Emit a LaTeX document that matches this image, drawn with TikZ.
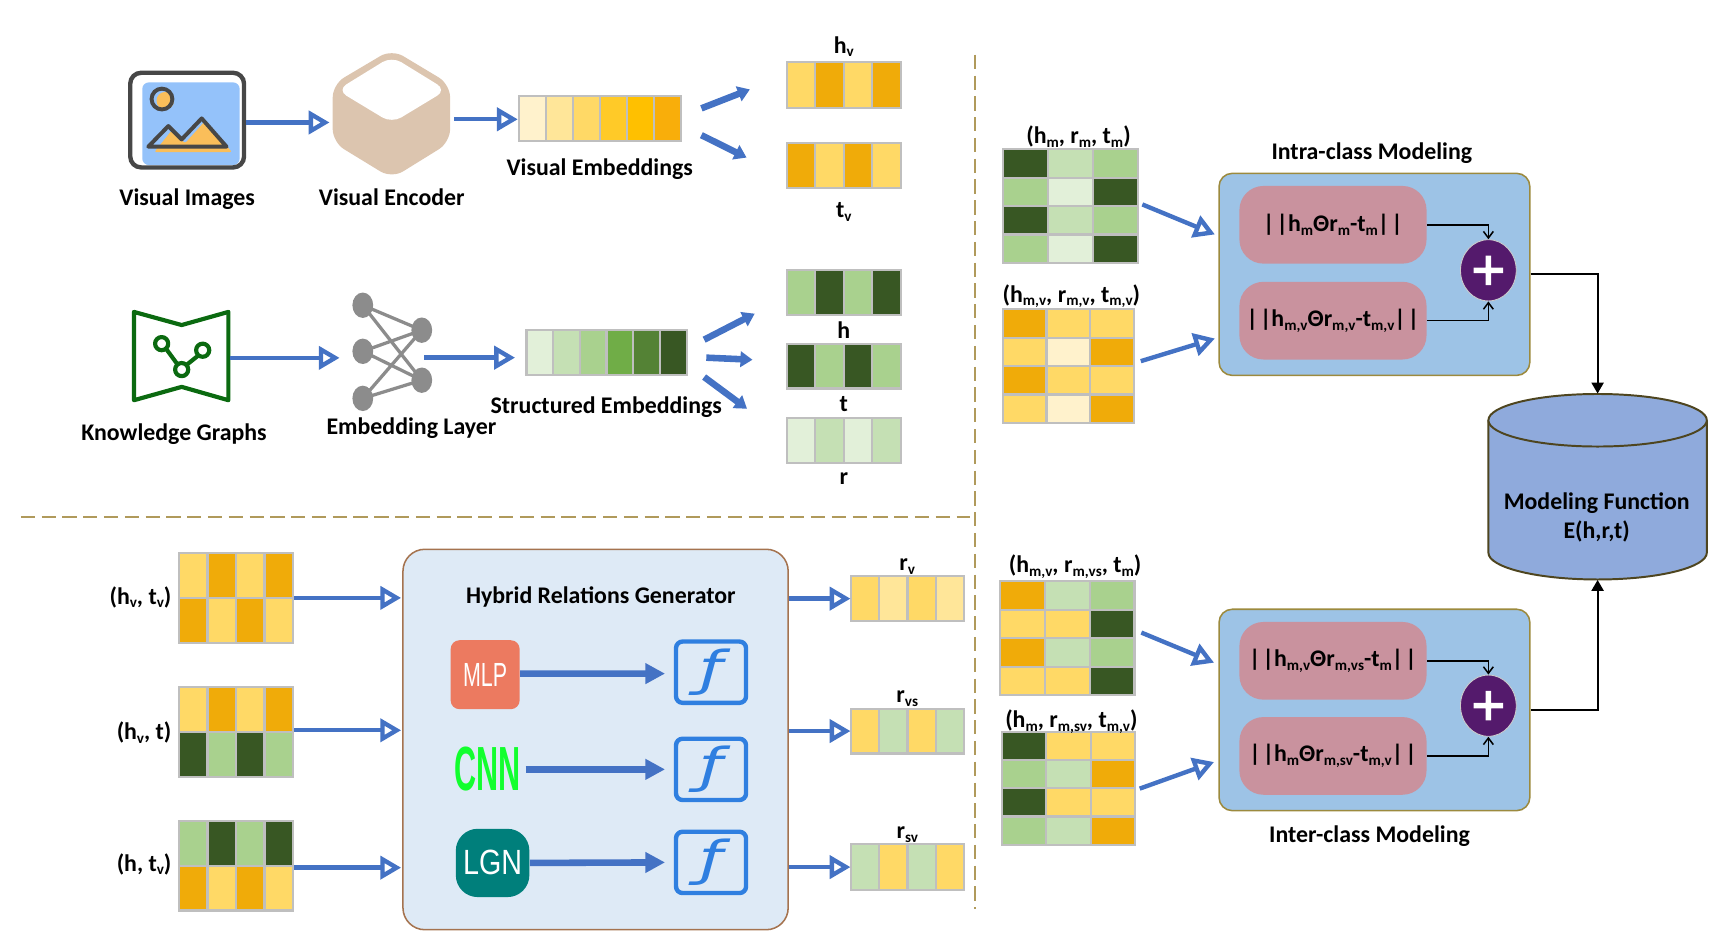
\documentclass[tikz,border=0pt]{standalone}
\usepackage{fontspec}
\usepackage{graphicx}
\setmainfont{Carlito}
\newfontfamily\arialf{Liberation Sans}
\newfontfamily\dejaf{DejaVu Sans}
\usetikzlibrary{arrows.meta,shapes.geometric,calc}
\definecolor{barY}{HTML}{FFD966}
\definecolor{barO}{HTML}{F0AB09}
\definecolor{barP}{HTML}{FFF2CC}
\definecolor{barM}{HTML}{FFE699}
\definecolor{barA}{HTML}{FFCA28}
\definecolor{barB}{HTML}{FFC000}
\definecolor{barC}{HTML}{F9AE0A}
\definecolor{grD}{HTML}{385723}
\definecolor{grA}{HTML}{A9D18E}
\definecolor{grC}{HTML}{C5E0B4}
\definecolor{grE}{HTML}{E2F0D9}
\definecolor{grG}{HTML}{70AD47}
\definecolor{grH}{HTML}{548235}
\definecolor{flow}{HTML}{4472C4}
\definecolor{dashc}{HTML}{B09A5B}
\definecolor{panel}{HTML}{9DC3E6}
\definecolor{pink}{HTML}{C9929E}
\definecolor{plusc}{HTML}{541A6C}
\definecolor{olive}{HTML}{9C8A3E}
\definecolor{fblue}{HTML}{2F7FE0}
\newcommand{\sbt}[1]{\raisebox{-1.7pt}{\fontsize{6.9}{7}\selectfont #1}}
\newcommand{\nrm}{|\kern1pt|}
\newcommand{\heatrow}[5]{% x0 y0 cellw cellh colours
  \foreach \cc [count=\ii from 0] in {#5} {
    \fill[\cc] ({#1+\ii*#3},{#2}) rectangle ++(#3,#4);
    \draw[cellline] ({#1+\ii*#3},{#2}) rectangle ++(#3,#4);
  }}
\newcommand{\heatfour}[6]{% x0 y0 cellw cellh oddrow evenrow
  \heatrow{#1}{#2}{#3}{#4}{#5}
  \heatrow{#1}{#2+#4}{#3}{#4}{#6}
  \heatrow{#1}{#2+2*#4}{#3}{#4}{#5}
  \heatrow{#1}{#2+3*#4}{#3}{#4}{#6}}
\tikzset{
  cellline/.style={draw=black!25,line width=1pt},
  lab/.style={font=\fontsize{10.9}{13}\selectfont\bfseries,inner sep=0pt,align=center,text=black,yshift=-.8pt},
  hook/.style={inner sep=0pt,minimum size=0pt},
  openflow/.style={draw=flow,line width=2pt,-{Triangle[open,length=9.5pt,width=10.5pt,line width=2pt]}},
  solidflow/.style={draw=flow,line width=3pt,-{Triangle[length=5.5pt,width=7pt]}},
  genflow/.style={draw=flow,line width=3pt,-{Triangle[length=9pt,width=9pt]}},
  panelbox/.style={draw=olive,fill=panel,line width=.7pt,rounded corners=6pt,inner sep=0pt},
  pinkbox/.style={fill=pink,rounded corners=11pt,inner sep=0pt,minimum width=85.5pt,minimum height=35.5pt,font=\fontsize{10.9}{13}\selectfont\bfseries},
  plusnode/.style={ellipse,fill=plusc,draw=black!20,line width=.4pt,inner sep=0pt,minimum width=25.5pt,minimum height=28pt},
  thinarrow/.style={draw=black,line width=.7pt,-{Straight Barb[length=3pt,width=4.5pt]}},
  bigline/.style={draw=black,line width=1pt,-{Triangle[length=5pt,width=5.5pt]}},
  fbox/.style={draw=fblue,line width=2pt,rounded corners=3pt,inner sep=0pt,minimum width=32pt,minimum height=28pt,font=\fontsize{22}{22}\selectfont\dejaf\itshape,text=fblue},
  sep/.style={draw=dashc,line width=.9pt,dash pattern=on 6.5pt off 3pt},
  kgline/.style={line width=1.9pt,draw={rgb,255:red,11;green,106;blue,16},line join=round},
}
\begin{document}
\begin{tikzpicture}[x=0.5pt,y=-0.5pt]
\useasboundingbox (0,0) rectangle (1568,869);
% separators
\coordinate (vt) at (891,50); \coordinate (vb) at (891,831);
\coordinate (hl) at (19,472); \coordinate (hr) at (886,472);
\draw[sep] (vt) -- (vb);
\draw[sep] (hl) -- (hr);

% ---------- visual image icon
\node[hook,minimum width=53pt,minimum height=44pt] (img) at (171,110) {};
\fill[rounded corners=3pt,fill={rgb,255:red,148;green,194;blue,250}] (130,75.3) rectangle (219,150.8);
\fill[fill={rgb,255:red,250;green,190;blue,90}] (151,92) circle (8);
\draw[line width=1.8pt,draw=black!72] (148,90.5) circle (9.5);
\fill[fill={rgb,255:red,250;green,190;blue,90},rounded corners=1pt] (141,139) -- (157,119) -- (169,131) -- (187,111) -- (212,139) -- cycle;
\draw[line width=1.8pt,draw=black!72,line join=round] (135.5,134) -- (153.8,115.2) -- (166,127.4) -- (184.3,108.2) -- (207,134) -- cycle;
\draw[line width=2pt,draw=black!72,rounded corners=5pt] (119,66.5) rectangle (223,153);

% ---------- encoder icon
\node[hook,minimum width=53.5pt,minimum height=55pt] (enc) at (358,104) {};
\fill[fill={rgb,255:red,220;green,197;blue,175},rounded corners=6pt] (358,45) -- (411.3,77) -- (411.3,130) -- (358,163) -- (304,130) -- (304,77) -- cycle;
\fill[white,rounded corners=5pt] (358,51.5) -- (408,82.3) -- (358,112.5) -- (308,82.3) -- cycle;

% ---------- visual embeddings
\node[hook,minimum width=74pt,minimum height=20.5pt] (vemb) at (548,108.4) {};
\heatrow{474.5}{87.8}{24.6}{41.2}{barP,barM,barY,barA,barB,barC}
\node[hook,minimum width=52pt,minimum height=20.8pt] (hv) at (771,78) {};
\heatrow{719}{57}{26}{41.6}{barY,barO,barY,barO}
\node[hook,minimum width=52pt,minimum height=20.8pt] (tv) at (771,151) {};
\heatrow{719}{130.5}{26}{41}{barO,barY,barO,barY}

\node[lab] (limg) at (171,180) {Visual Images};
\node[lab] (lenc) at (358,179) {Visual Encoder};
\node[lab] (lvemb) at (548,153) {Visual Embeddings};
\node[lab] (lhv) at (771,41) {h\sbt{v}};
\node[lab] (ltv) at (771,192) {t\sbt{v}};

\draw[openflow] ($(img.east)+(.8,1.9)$) -- ($(enc.west)+(-3,7.9)$);
\draw[openflow] ($(enc.east)+(3.3,5)$) -- ($(vemb.west)+(-.5,.6)$);
\draw[solidflow] ($(vemb.east)+(18.5,-9.4)$) -- ($(hv.west)+(-33.4,3.7)$);
\draw[solidflow] ($(vemb.east)+(18.5,15.1)$) -- ($(tv.west)+(-36.4,-7)$);

% ---------- knowledge graph icon
\node[hook,minimum width=43pt,minimum height=40pt] (kg) at (166,326) {};
\draw[kgline] (122.4,285) -- (166,297) -- (208.7,285) -- (208.7,365.7) -- (166,353.5) -- (122.4,365.7) -- cycle;
\draw[kgline] (152,319) -- (161.5,332) (181,325) -- (171,333);
\draw[kgline] (147.7,314) circle (6) (185.2,320) circle (6) (166,337.7) circle (6);

% ---------- embedding layer icon
\node[hook,minimum width=36pt,minimum height=50pt] (nn) at (358,322) {};
\foreach \a/\b in {331.5/278.9,331.5/321,331.5/364} \foreach \c/\d in {385.4/301.7,385.4/347.4}
  \draw[line width=1.5pt,draw=black!45] (\a,\b) -- (\c,\d);
\foreach \a/\b in {331.5/278.9,331.5/321,331.5/364,385.4/301.7,385.4/347.4}
  \fill[black!45] (\a,\b) ellipse (9.5 and 11.6);

% ---------- structured embeddings
\node[hook,minimum width=73.2pt,minimum height=20.6pt] (semb) at (554.2,322.4) {};
\heatrow{481}{301.8}{24.4}{41.2}{grE,grC,grA,grG,grH,grD}
\node[hook,minimum width=52pt,minimum height=20.5pt] (hb) at (771,267.5) {};
\heatrow{719}{247}{26}{41}{grA,grD,grA,grD}
\node[hook,minimum width=52pt,minimum height=20.5pt] (tb) at (771,334.5) {};
\heatrow{719}{314}{26}{41}{grD,grA,grD,grA}
\node[hook,minimum width=52pt,minimum height=20.6pt] (rb) at (771,402.3) {};
\heatrow{719}{381.7}{26}{41.2}{grE,grC,grE,grC}

\node[lab] (lkg) at (159,395) {Knowledge Graphs};
\node[lab] (lnn) at (376,390) {Embedding Layer};
\node[lab] (lsemb) at (554,370) {Structured Embeddings};
\node[lab] (lh) at (771,300) {h};
\node[lab] (lt) at (771,368) {t};
\node[lab] (lr) at (771,436) {r};

\draw[openflow] ($(kg.east)+(1,1)$) -- ($(nn.west)+(-11.3,5)$);
\draw[openflow] ($(nn.east)+(-6.8,4.8)$) -- ($(semb.west)+(-10,4.4)$);
\draw[solidflow] ($(semb.east)+(15.6,-12)$) -- ($(hb.west)+(-29,19.1)$);
\draw[solidflow] ($(semb.east)+(17.6,4.4)$) -- ($(tb.west)+(-31,-5.8)$);
\draw[solidflow] ($(semb.east)+(15.6,22.1)$) -- ($(rb.west)+(-36,-28.8)$);

% ---------- inputs of the generator
\node[hook,minimum width=52pt,minimum height=41pt] (m1) at (215.5,546.3) {};
\heatrow{163.6}{505.2}{26}{41}{barY,barO,barY,barO}
\heatrow{163.6}{546.2}{26}{41}{barO,barY,barO,barY}
\node[hook,minimum width=52pt,minimum height=41pt] (m2) at (215.5,668.8) {};
\heatrow{163.6}{627.7}{26}{41}{barY,barO,barY,barO}
\heatrow{163.6}{668.7}{26}{41}{grD,grA,grD,grA}
\node[hook,minimum width=52pt,minimum height=41pt] (m3) at (215.5,791) {};
\heatrow{163.6}{750}{26}{41}{grA,grD,grA,grD}
\heatrow{163.6}{791}{26}{41}{barO,barY,barO,barY}
\node[lab,anchor=east] (lm1) at (157,544) {(h\sbt{v}, t\sbt{v})};
\node[lab,anchor=east] (lm2) at (157,668) {(h\sbt{v}, t)};
\node[lab,anchor=east] (lm3) at (157,788) {(h, t\sbt{v})};

% ---------- generator
\node[draw={rgb,255:red,165;green,115;blue,79},fill={rgb,255:red,222;green,234;blue,246},line width=.7pt,rounded corners=10pt,minimum width=176pt,minimum height=173.8pt,inner sep=0pt] (gen) at (544.2,675.7) {};
\node[lab] (lgen) at (549,544) {Hybrid Relations Generator};
\node[fill={rgb,255:red,236;green,122;blue,96},rounded corners=4pt,minimum width=31.5pt,minimum height=31.5pt,inner sep=0pt,font=\fontsize{15.3}{16}\selectfont\arialf,text=white] (mlp) at (443.3,616.5) {\scalebox{.64}[1]{MLP}};
\node[inner sep=0pt,minimum width=30pt,minimum height=20.5pt,font=\fontsize{28.5}{29}\selectfont\arialf\bfseries,text={rgb,255:red,18;green,255;blue,46}] (cnn) at (445.6,703) {\scalebox{.49}[1]{CNN}};
\node[fill={rgb,255:red,0;green,127;blue,123},rounded corners=10pt,minimum width=33.6pt,minimum height=31.2pt,inner sep=0pt,font=\fontsize{16}{17}\selectfont\arialf,text=white] (lgn) at (450.1,788.5) {\scalebox{.82}[1]{LGN}};
\node[fbox] (f1) at (649.7,614.2) {\scalebox{1.4}[1]{ƒ}};
\node[fbox] (f2) at (649.7,703) {\scalebox{1.4}[1]{ƒ}};
\node[fbox] (f3) at (649.7,788) {\scalebox{1.4}[1]{ƒ}};
\draw[genflow] ($(mlp.east)+(0,-1)$) -- ($(f1.west)+(-8,1.3)$);
\draw[genflow] ($(cnn.east)+(4,0)$) -- ($(f2.west)+(-8,0)$);
\draw[genflow] (lgn.east) -- ($(f3.west)+(-8,0)$);

\draw[openflow] ($(m1.east)+(1,0)$) -- ($(m1.east -| gen.west)+(-1,0)$);
\draw[openflow] ($(m2.east)+(1,-1.5)$) -- ($(m2.east -| gen.west)+(-1,-1.5)$);
\draw[openflow] ($(m3.east)+(1,1.8)$) -- ($(m3.east -| gen.west)+(-1,1.8)$);

% ---------- relation bars
\node[hook,minimum width=51.7pt,minimum height=20.5pt] (rv) at (829.2,547) {};
\heatrow{777.5}{526.5}{25.85}{41}{barY,barM,barY,barM}
\node[hook,minimum width=51.7pt,minimum height=20.5pt] (rvs) at (829.2,668) {};
\heatrow{777.5}{647.5}{25.85}{41}{barY,grC,barY,grC}
\node[hook,minimum width=51.7pt,minimum height=20.7pt] (rsv) at (829.2,792.3) {};
\heatrow{777.5}{771.5}{25.85}{41.5}{grC,barY,grC,barY}
\node[lab] (lrv) at (829,516) {r\sbt{v}};
\node[lab] (lrvs) at (829,637) {r\sbt{vs}};
\node[lab] (lrsv) at (829,761) {r\sbt{sv}};
\draw[openflow] (gen.east |- rv.west) -- (rv.west);
\draw[openflow] (gen.east |- rvs.west) -- (rvs.west);
\draw[openflow] (gen.east |- rsv.west) -- (rsv.west);

% ---------- matrices on the right
\node[hook,minimum width=61.8pt,minimum height=51.8pt] (q1) at (978.1,188.2) {};
\heatfour{916.3}{136.5}{41.2}{25.9}{grD,grC,grA}{grA,grE,grD}
\node[hook,minimum width=60pt,minimum height=51.8pt] (q2) at (976.2,334.5) {};
\heatfour{916.3}{282.7}{40}{25.9}{barO,barY,barY}{barY,barP,barO}
\node[hook,minimum width=61.4pt,minimum height=52.2pt] (q3) at (975.4,583.2) {};
\heatfour{914}{531}{40.9}{26.1}{barO,grC,grA}{barY,barY,grD}
\node[hook,minimum width=61pt,minimum height=51.5pt] (q4) at (976.4,720.3) {};
\heatfour{915.4}{668.8}{40.6}{25.75}{grD,barY,barY}{grA,grC,barO}
\node[lab] (lq1) at (985.5,123.4) {(h\sbt{m}, r\sbt{m}, t\sbt{m})};
\node[lab] (lq2) at (979,269) {(h\sbt{m,v}, r\sbt{m,v}, t\sbt{m,v})};
\node[lab] (lq3) at (982.4,516) {(h\sbt{m,v}, r\sbt{m,vs}, t\sbt{m})};
\node[lab] (lq4) at (979,658) {(h\sbt{m}, r\sbt{m,sv}, t\sbt{m,v})};

% ---------- intra-class panel
\node[panelbox,minimum width=142pt,minimum height=92.3pt] (intra) at (1255.9,250.7) {};
\node[lab] (lintra) at (1253.5,138.6) {Intra-class Modeling};
\node[pinkbox] (p1) at (1218,205.4) {\nrm h\sbt{m}Θr\sbt{m}-t\sbt{m}\nrm};
\node[pinkbox] (p2) at (1218,293) {\nrm h\sbt{m,v}Θr\sbt{m,v}-t\sbt{m,v}\nrm};
\node[plusnode] (s1) at (1360,247) {};
\fill[white] (1346.5,244.5) rectangle (1373.5,249.5) (1357.5,233.5) rectangle (1362.5,260.5);
\draw[thinarrow] (p1.east) -| (s1.north);
\draw[thinarrow] (p2.east) -| (s1.south);
\draw[openflow] ($(q1.east)+(3.5,-1.4)$) -- ($(intra.west)+(-3.1,-36.5)$);
\draw[openflow] ($(q2.east)+(5.8,-4.5)$) -- ($(intra.west)+(-3.1,58.6)$);

% ---------- inter-class panel
\node[panelbox,minimum width=142pt,minimum height=92pt] (inter) at (1255.9,648.7) {};
\node[lab] (linter) at (1251.4,762) {Inter-class Modeling};
\node[pinkbox] (p3) at (1218,603.8) {\nrm h\sbt{m,v}Θr\sbt{m,vs}-t\sbt{m}\nrm};
\node[pinkbox] (p4) at (1218,690.7) {\nrm h\sbt{m}Θr\sbt{m,sv}-t\sbt{m,v}\nrm};
\node[plusnode] (s2) at (1360,644.8) {};
\fill[white] (1346.5,642.3) rectangle (1373.5,647.3) (1357.5,631.3) rectangle (1362.5,658.3);
\draw[thinarrow] (p3.east) -| (s2.north);
\draw[thinarrow] (p4.east) -| (s2.south);
\draw[openflow] ($(q3.east)+(5.7,-5.2)$) -- ($(inter.west)+(-3.9,-43.2)$);
\draw[openflow] ($(q4.east)+(3.6,.3)$) -- ($(inter.west)+(-3.9,47.6)$);

% ---------- modeling function
\node[hook,minimum width=100pt,minimum height=84.75pt] (db) at (1459.8,444.75) {};
\path[draw=black!50!olive,fill={rgb,255:red,143;green,170;blue,220},line width=.9pt] (1360,384) -- (1360,505) arc[start angle=180,end angle=0,x radius=99.8,y radius=24.5] -- (1559.6,384);
\path[draw=black!50!olive,fill={rgb,255:red,143;green,170;blue,220},line width=.9pt] (1459.8,384) ellipse [x radius=99.8,y radius=24];
\node[lab] (ldb) at (1459,471) {Modeling Function\\E(h,r,t)};
\draw[bigline] (intra.east) -| (db.north);
\draw[bigline] (inter.east) -| (db.south);
\end{tikzpicture}
\end{document}
